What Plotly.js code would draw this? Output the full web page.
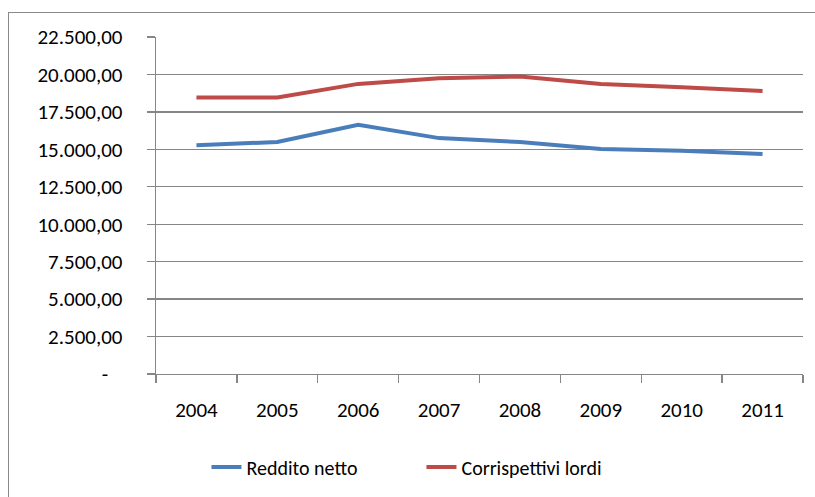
<!DOCTYPE html>
<html>
<head>
<meta charset="utf-8">
<script src="https://cdn.plot.ly/plotly-3.0.1.min.js"></script>
<style>
html,body{margin:0;padding:0;background:#fff;}
#wrap{position:relative;width:815px;height:497px;overflow:hidden;}
#chart{position:absolute;left:0;top:0;width:815px;height:497px;}
#frame{position:absolute;left:8px;top:12px;width:900px;height:600px;border:1.5px solid #898989;pointer-events:none;}
</style>
</head>
<body>
<div id="wrap"><div id="chart"></div><div id="frame"></div></div>
<script>
const years = ["2004","2005","2006","2007","2008","2009","2010","2011"];
const redditoNetto = [15270, 15490, 16640, 15750, 15490, 15020, 14910, 14690];
const corrispettiviLordi = [18460, 18460, 19370, 19750, 19860, 19370, 19150, 18900];
const yTickVals = [0, 2500, 5000, 7500, 10000, 12500, 15000, 17500, 20000, 22500];
const yTickText = ["-\u00a0\u00a0\u00a0", "2.500,00", "5.000,00", "7.500,00", "10.000,00", "12.500,00", "15.000,00", "17.500,00", "20.000,00", "22.500,00"];

const font = "Carlito, Lato, 'Open Sans', sans-serif";

const traces = [
  {x: years, y: redditoNetto, name: "Reddito netto", type: "scatter", mode: "lines",
   line: {color: "#4A7EBB", width: 4}},
  {x: years, y: corrispettiviLordi, name: "Corrispettivi lordi", type: "scatter", mode: "lines",
   line: {color: "#BE4B48", width: 4}}
];

const layout = {
  width: 815, height: 497,
  margin: {l: 156, r: 12, t: 37, b: 122},
  paper_bgcolor: "rgba(0,0,0,0)", plot_bgcolor: "#fff",
  font: {family: font, size: 21, color: "#000"},
  showlegend: true,
  legend: {orientation: "h", x: 0.078, xanchor: "left", y: -0.272, yanchor: "middle",
           entrywidth: 170, entrywidthmode: "pixels",
           font: {family: font, size: 20, color: "#000"}, bgcolor: "rgba(0,0,0,0)"},
  xaxis: {type: "category", range: [-0.5, 7.5], showgrid: false, showline: true, linecolor: "#868686", linewidth: 1.3,
          ticks: "outside", tickson: "boundaries", ticklen: 8, tickcolor: "#868686", tickwidth: 1.3,
          ticklabelstandoff: 16, zeroline: false,
          tickfont: {family: font, size: 21, color: "#000"}},
  yaxis: {range: [0, 22500], tickvals: yTickVals, ticktext: yTickText, showgrid: true,
          gridcolor: "#868686", gridwidth: 1.3, showline: true, linecolor: "#868686", linewidth: 1.3,
          ticks: "outside", ticklen: 8, tickcolor: "#868686", tickwidth: 1.3,
          ticklabelstandoff: 20, zeroline: false,
          tickfont: {family: font, size: 21, color: "#000"}}
};

Plotly.newPlot("chart", traces, layout, {displayModeBar: false, staticPlot: true});
</script>
</body>
</html>
